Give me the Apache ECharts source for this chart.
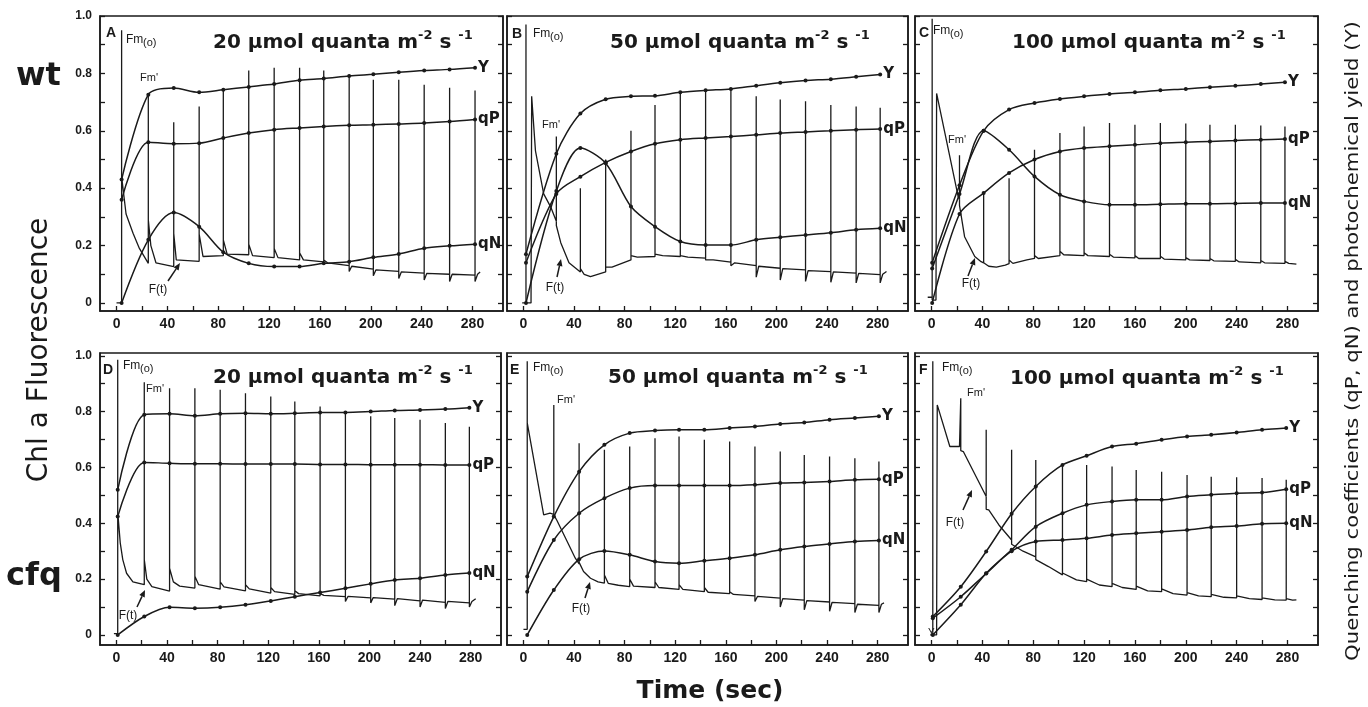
<!DOCTYPE html>
<html>
<head>
<meta charset="utf-8">
<script src="https://cdn.jsdelivr.net/npm/echarts/dist/echarts.min.js"></script>
<style>
  html, body { margin: 0; padding: 0; background: #ffffff; }
  #chart { width: 1368px; height: 707px; }
</style>
</head>
<body>
<div id="chart"></div>
<script>
// ---------------- tick / label values ----------------
const xTickVals = [0, 20, 40, 60, 80, 100, 120, 140, 160, 180, 200, 220, 240, 260, 280];
const xLabelVals = [0, 40, 80, 120, 160, 200, 240, 280];
const yTickVals = [0, 0.1, 0.2, 0.3, 0.4, 0.5, 0.6, 0.7, 0.8, 0.9, 1.0];
const yLabelVals = [0, 0.2, 0.4, 0.6, 0.8, 1.0];

const panelLetters = ['A', 'B', 'C', 'D', 'E', 'F'];
const panelLight = ['20', '50', '100', '20', '50', '100'];
const rowNames = ['wt', 'cfq'];

// ---------------- Panel A (wt, 20) ----------------
const pulseA = [4, 25, 45, 65, 84, 104, 124, 144, 163, 183, 202, 222, 242, 262, 282];
const peakA = [0.95, 0.73, 0.63, 0.685, 0.74, 0.81, 0.82, 0.82, 0.81, 0.796, 0.778, 0.778, 0.76, 0.75, 0.74];
const traceA = [[0, 0.0], [4, 0.0], [4, 0.44], [7.5, 0.31], [13, 0.243], [18, 0.19], [25, 0.138],
  [25, 0.29], [27, 0.2], [31, 0.14], [45, 0.127],
  [45, 0.243], [47, 0.15], [65, 0.145],
  [65, 0.24], [68, 0.162], [84, 0.165],
  [84, 0.22], [87, 0.17], [104, 0.168],
  [104, 0.205], [107, 0.165], [124, 0.158],
  [124, 0.19], [127, 0.158], [144, 0.15],
  [144, 0.175], [147, 0.15], [163, 0.143],
  [163, 0.15], [166, 0.14], [183, 0.13],
  [183, 0.11], [185, 0.128], [202, 0.118],
  [202, 0.095], [204, 0.115], [222, 0.11],
  [222, 0.085], [224, 0.108], [242, 0.104],
  [242, 0.08], [244, 0.103], [262, 0.1],
  [262, 0.075], [264, 0.1], [282, 0.097],
  [282, 0.075], [284, 0.1], [286, 0.108]];
const yA = [0.43, 0.726, 0.749, 0.734, 0.743, 0.753, 0.763, 0.776, 0.782, 0.791, 0.797, 0.804, 0.81, 0.814, 0.82];
const qpA = [0.36, 0.56, 0.555, 0.557, 0.575, 0.592, 0.604, 0.61, 0.615, 0.619, 0.621, 0.624, 0.627, 0.632, 0.639];
const qnA = [0.0, 0.22, 0.315, 0.266, 0.177, 0.138, 0.127, 0.127, 0.138, 0.144, 0.159, 0.171, 0.191, 0.199, 0.205];

// ---------------- Panel B (wt, 50) ----------------
const pulseB = [2, 26, 45, 65, 85, 104, 124, 144, 164, 184, 203, 223, 243, 263, 282];
const peakB = [0.97, 0.58, 0.40, 0.50, 0.60, 0.69, 0.738, 0.743, 0.743, 0.72, 0.709, 0.703, 0.69, 0.685, 0.68];
const traceB = [[-1, 0.0], [2, 0.0], [2, 0.0], [6, 0.0], [6.5, 0.72], [9.5, 0.53], [16, 0.38], [21.5, 0.335], [26, 0.285],
  [26, 0.27], [29.5, 0.21], [36, 0.14], [45, 0.108],
  [45, 0.12], [48, 0.1], [53, 0.092], [65, 0.108],
  [65, 0.125], [70, 0.125], [85, 0.15],
  [85, 0.165], [90, 0.16], [104, 0.162],
  [104, 0.17], [110, 0.165], [124, 0.162],
  [124, 0.165], [130, 0.16], [144, 0.156],
  [144, 0.15], [150, 0.15], [164, 0.142],
  [164, 0.13], [167, 0.14], [184, 0.13],
  [184, 0.09], [186, 0.128], [203, 0.121],
  [203, 0.08], [205, 0.12], [223, 0.115],
  [223, 0.075], [225, 0.113], [243, 0.109],
  [243, 0.072], [245, 0.108], [263, 0.104],
  [263, 0.07], [265, 0.103], [282, 0.099],
  [282, 0.07], [284, 0.1], [287, 0.11]];
const yB = [0.17, 0.52, 0.66, 0.71, 0.72, 0.722, 0.734, 0.741, 0.746, 0.757, 0.767, 0.775, 0.78, 0.788, 0.796];
const qpB = [0.14, 0.38, 0.44, 0.49, 0.528, 0.555, 0.569, 0.575, 0.58, 0.586, 0.592, 0.596, 0.6, 0.604, 0.606];
const qnB = [0.0, 0.39, 0.54, 0.487, 0.336, 0.266, 0.214, 0.202, 0.202, 0.22, 0.229, 0.237, 0.245, 0.255, 0.26];

// ---------------- Panel C (wt, 100) ----------------
const pulseC = [0.5, 22, 41, 61, 81, 101, 120, 140, 160, 180, 200, 219, 239, 259, 278];
const peakC = [0.99, 0.515, 0.383, 0.435, 0.534, 0.592, 0.615, 0.627, 0.621, 0.627, 0.625, 0.621, 0.621, 0.618, 0.615];
const traceC = [[-3, 0.02], [0.5, 0.02], [0.5, 0.01], [3.5, 0.01], [4, 0.73], [21, 0.37], [22, 0.36],
  [22, 0.34], [26, 0.231], [34, 0.162], [39, 0.144], [41, 0.14],
  [41, 0.14], [45, 0.128], [51, 0.125], [58, 0.132], [61, 0.137],
  [61, 0.15], [64, 0.138], [75, 0.15], [81, 0.155],
  [81, 0.165], [84, 0.155], [101, 0.165],
  [101, 0.18], [104, 0.168], [120, 0.165],
  [120, 0.175], [123, 0.165], [140, 0.162],
  [140, 0.17], [143, 0.16], [160, 0.157],
  [160, 0.165], [163, 0.155], [180, 0.155],
  [180, 0.163], [183, 0.153], [200, 0.15],
  [200, 0.158], [203, 0.15], [219, 0.148],
  [219, 0.155], [222, 0.147], [239, 0.145],
  [239, 0.152], [242, 0.143], [259, 0.14],
  [259, 0.148], [262, 0.14], [278, 0.138],
  [278, 0.145], [281, 0.138], [287, 0.135]];
const yC = [0.14, 0.41, 0.6, 0.674, 0.697, 0.711, 0.72, 0.728, 0.734, 0.741, 0.746, 0.752, 0.757, 0.763, 0.769];
const qpC = [0.0, 0.31, 0.383, 0.453, 0.5, 0.528, 0.54, 0.546, 0.551, 0.557, 0.56, 0.563, 0.566, 0.569, 0.571];
const qnC = [0.12, 0.38, 0.6, 0.534, 0.441, 0.377, 0.354, 0.342, 0.342, 0.344, 0.346, 0.346, 0.347, 0.348, 0.348];

// ---------------- Panel D (cfq, 20) ----------------
const pulseD = [1, 22, 42, 62, 82, 102, 122, 141, 161, 181, 201, 220, 240, 260, 279];
const peakD = [0.986, 0.905, 0.884, 0.884, 0.878, 0.866, 0.854, 0.836, 0.818, 0.8, 0.783, 0.777, 0.771, 0.759, 0.746];
const traceD = [[-2, 0.005], [1, 0.005], [1, 0.44], [3, 0.33], [5, 0.27], [8, 0.221], [13, 0.19], [22, 0.18],
  [22, 0.27], [24, 0.2], [28, 0.173], [42, 0.157],
  [42, 0.239], [45, 0.19], [50, 0.175], [62, 0.168],
  [62, 0.21], [65, 0.18], [82, 0.164],
  [82, 0.19], [85, 0.172], [102, 0.158],
  [102, 0.18], [105, 0.165], [122, 0.15],
  [122, 0.17], [125, 0.155], [141, 0.145],
  [141, 0.158], [144, 0.148], [161, 0.14],
  [161, 0.148], [164, 0.142], [181, 0.137],
  [181, 0.12], [183, 0.138], [201, 0.133],
  [201, 0.115], [203, 0.134], [220, 0.128],
  [220, 0.105], [222, 0.13], [240, 0.122],
  [240, 0.1], [242, 0.125], [260, 0.117],
  [260, 0.095], [262, 0.12], [279, 0.115],
  [279, 0.1], [281, 0.12], [284, 0.13]];
const yD = [0.52, 0.789, 0.792, 0.785, 0.792, 0.794, 0.792, 0.794, 0.797, 0.797, 0.8, 0.804, 0.806, 0.809, 0.814];
const qpD = [0.424, 0.618, 0.615, 0.613, 0.613, 0.612, 0.612, 0.612, 0.611, 0.611, 0.61, 0.61, 0.61, 0.609, 0.609];
const qnD = [0.0, 0.066, 0.099, 0.096, 0.099, 0.108, 0.122, 0.137, 0.152, 0.167, 0.183, 0.197, 0.203, 0.215, 0.222];

// ---------------- Panel E (cfq, 50) ----------------
const pulseE = [3, 24, 44, 64, 84, 104, 123, 143, 163, 183, 203, 222, 242, 262, 281];
const peakE = [0.98, 0.824, 0.687, 0.663, 0.675, 0.705, 0.711, 0.699, 0.693, 0.675, 0.657, 0.645, 0.639, 0.633, 0.621];
const traceE = [[0, 0.02], [3, 0.02], [3, 0.76], [16, 0.43], [21, 0.436], [24, 0.432],
  [24, 0.43], [26.5, 0.41], [34, 0.34], [41, 0.275], [44, 0.255],
  [44, 0.26], [47.5, 0.227], [53, 0.203], [59, 0.19], [64, 0.186],
  [64, 0.215], [67, 0.185], [75, 0.178], [84, 0.173],
  [84, 0.2], [87, 0.175], [104, 0.17],
  [104, 0.19], [107, 0.17], [123, 0.163],
  [123, 0.18], [126, 0.163], [143, 0.155],
  [143, 0.17], [146, 0.153], [163, 0.148],
  [163, 0.155], [166, 0.145], [183, 0.14],
  [183, 0.12], [185, 0.138], [203, 0.132],
  [203, 0.1], [205, 0.13], [222, 0.125],
  [222, 0.09], [224, 0.123], [242, 0.118],
  [242, 0.085], [244, 0.117], [262, 0.112],
  [262, 0.08], [264, 0.11], [281, 0.106],
  [281, 0.08], [283, 0.11], [285, 0.115]];
const yE = [0.209, 0.424, 0.585, 0.681, 0.723, 0.732, 0.735, 0.735, 0.741, 0.747, 0.756, 0.761, 0.771, 0.777, 0.783];
const qpE = [0.155, 0.34, 0.436, 0.49, 0.526, 0.535, 0.535, 0.535, 0.535, 0.538, 0.544, 0.546, 0.55, 0.556, 0.558];
const qnE = [0.0, 0.161, 0.271, 0.301, 0.287, 0.263, 0.257, 0.266, 0.275, 0.287, 0.305, 0.317, 0.326, 0.335, 0.338];

// ---------------- Panel F (cfq, 100) ----------------
const pulseF = [1, 23, 43, 63, 82, 103, 122, 142, 161, 181, 201, 220, 240, 260, 279];
const peakF = [0.98, 0.848, 0.735, 0.663, 0.627, 0.603, 0.609, 0.603, 0.591, 0.585, 0.573, 0.567, 0.565, 0.562, 0.556];
const traceF = [[-1, 0.0], [1, 0.0], [1, 0.0], [4, 0.0], [4.5, 0.824], [14.4, 0.675], [22, 0.675], [23, 0.675],
  [23, 0.66], [25, 0.657], [43, 0.496],
  [43, 0.45], [45, 0.448], [53, 0.394], [63, 0.34],
  [63, 0.325], [72, 0.3], [82, 0.28],
  [82, 0.27], [92, 0.245], [103, 0.215],
  [103, 0.222], [114, 0.197], [122, 0.191],
  [122, 0.2], [132, 0.179], [142, 0.173],
  [142, 0.185], [150, 0.17], [161, 0.163],
  [161, 0.175], [170, 0.158], [181, 0.155],
  [181, 0.165], [190, 0.148], [201, 0.143],
  [201, 0.152], [210, 0.14], [220, 0.137],
  [220, 0.145], [230, 0.135], [240, 0.133],
  [240, 0.14], [250, 0.13], [260, 0.127],
  [260, 0.133], [270, 0.126], [279, 0.125],
  [279, 0.13], [284, 0.125], [287, 0.126]];
const yF = [0.066, 0.173, 0.299, 0.434, 0.532, 0.609, 0.642, 0.675, 0.685, 0.699, 0.711, 0.717, 0.725, 0.735, 0.741];
const qpF = [0.0, 0.108, 0.221, 0.305, 0.388, 0.436, 0.466, 0.478, 0.484, 0.484, 0.496, 0.502, 0.508, 0.51, 0.522];
const qnF = [0.06, 0.137, 0.22, 0.3, 0.335, 0.34, 0.346, 0.358, 0.364, 0.37, 0.376, 0.386, 0.39, 0.398, 0.4];

// ---------------- assemble ----------------
const panelData = [
  { pulse: pulseA, peak: peakA, trace: traceA, y: yA, qp: qpA, qn: qnA },
  { pulse: pulseB, peak: peakB, trace: traceB, y: yB, qp: qpB, qn: qnB },
  { pulse: pulseC, peak: peakC, trace: traceC, y: yC, qp: qpC, qn: qnC },
  { pulse: pulseD, peak: peakD, trace: traceD, y: yD, qp: qpD, qn: qnD },
  { pulse: pulseE, peak: peakE, trace: traceE, y: yE, qp: qpE, qn: qnE },
  { pulse: pulseF, peak: peakF, trace: traceF, y: yF, qp: qpF, qn: qnF }
];

// layout (pixels)
const gridBoxes = [
  { left: 100, top: 16, width: 403, height: 295 },
  { left: 507, top: 16, width: 401, height: 295 },
  { left: 915, top: 16, width: 403, height: 295 },
  { left: 100, top: 353, width: 401, height: 292 },
  { left: 507, top: 353, width: 401, height: 292 },
  { left: 915, top: 353, width: 403, height: 292 }
];
const yRanges = [[-0.028, 1.0], [-0.028, 1.0], [-0.028, 1.0], [-0.036, 1.01], [-0.036, 1.01], [-0.036, 1.01]];

const INK = '#1a1a1a';

function buildTrace(trace, pulses, peaks) {
  const out = [];
  const used = {};
  for (let k = 0; k < trace.length; k++) {
    const p = trace[k];
    out.push(p);
    const idx = pulses.indexOf(p[0]);
    if (idx >= 0 && !used[idx] && k + 1 < trace.length && trace[k + 1][0] === p[0]) {
      out.push([p[0], peaks[idx]]);
      used[idx] = true;
    }
  }
  return out;
}

const grids = [], xAxes = [], yAxes = [], series = [];
gridBoxes.forEach((g, i) => {
  grids.push(Object.assign({ show: true, borderColor: INK, borderWidth: 1.5, backgroundColor: 'transparent' }, g));
  xAxes.push({
    type: 'value', gridIndex: i, min: -13, max: 304,
    axisLine: { show: true, onZero: false, lineStyle: { color: INK, width: 1.5 } },
    axisTick: { show: true, inside: true, length: 5, customValues: xTickVals, lineStyle: { color: INK, width: 1.3 } },
    axisLabel: { show: true, customValues: xLabelVals, fontSize: 14, fontWeight: 'bold', fontFamily: 'Liberation Sans', color: INK, margin: 6 },
    splitLine: { show: false }
  });
});
gridBoxes.forEach((g, i) => {
  const showLab = (i === 0 || i === 3);
  yAxes.push({
    type: 'value', gridIndex: i, position: 'left', min: yRanges[i][0], max: yRanges[i][1],
    axisLine: { show: true, onZero: false, lineStyle: { color: INK, width: 1.5 } },
    axisTick: { show: true, inside: true, length: 5, customValues: yTickVals, lineStyle: { color: INK, width: 1.3 } },
    axisLabel: { show: showLab, customValues: yLabelVals, fontSize: 12, fontWeight: 'bold', fontFamily: 'Liberation Sans', color: INK, margin: 8,
      formatter: v => (Math.abs(v) < 1e-9 ? '0' : v.toFixed(1)) },
    splitLine: { show: false }
  });
});
gridBoxes.forEach((g, i) => {
  yAxes.push({
    type: 'value', gridIndex: i, position: 'right', min: yRanges[i][0], max: yRanges[i][1],
    axisLine: { show: true, onZero: false, lineStyle: { color: INK, width: 1.5 } },
    axisTick: { show: true, inside: true, length: 5, customValues: yTickVals, lineStyle: { color: INK, width: 1.3 } },
    axisLabel: { show: false },
    splitLine: { show: false }
  });
});

const endLab = (txt) => ({ show: true, formatter: txt, fontSize: 15, fontWeight: 'bold', fontFamily: 'DejaVu Sans', color: INK, distance: 3 });

panelData.forEach((d, i) => {
  series.push({
    name: 'F(t) ' + panelLetters[i], type: 'line', xAxisIndex: i, yAxisIndex: i,
    data: buildTrace(d.trace, d.pulse, d.peak),
    showSymbol: false, symbol: 'none', smooth: false,
    lineStyle: { color: INK, width: 1.3 }, z: 3
  });
  const mk = (arr, lab) => ({
    name: lab + ' ' + panelLetters[i], type: 'line', xAxisIndex: i, yAxisIndex: i,
    data: d.pulse.map((t, k) => [t, arr[k]]),
    smooth: 0.3, symbol: 'circle', symbolSize: 4, showSymbol: true,
    itemStyle: { color: INK }, lineStyle: { color: INK, width: 1.5 },
    endLabel: endLab(lab), z: 4
  });
  series.push(mk(d.y, 'Y'), mk(d.qp, 'qP'), mk(d.qn, 'qN'));
});

// ---------------- annotation layout ----------------
const annot = [
  { letter: [106, 33], fmo: [126, 40], fmp: [140, 78], ft: [158, 290], arrow: [168, 281, 180, 263], title: [213, 41] },
  { letter: [512, 34], fmo: [533, 34], fmp: [542, 125], ft: [555, 288], arrow: [557, 277, 561, 259], title: [610, 41] },
  { letter: [919, 33], fmo: [933, 31], fmp: [948, 140], ft: [971, 284], arrow: [968, 276, 975, 258], title: [1012, 41] },
  { letter: [103, 370], fmo: [123, 366], fmp: [146, 389], ft: [128, 616], arrow: [137, 607, 145, 590], title: [213, 376] },
  { letter: [510, 370], fmo: [533, 368], fmp: [557, 400], ft: [581, 609], arrow: [585, 598, 590, 582], title: [608, 376] },
  { letter: [919, 370], fmo: [942, 368], fmp: [967, 393], ft: [955, 523], arrow: [963, 510, 972, 490], title: [1010, 377] }
];

function txt(x, y, text, font, align, extra) {
  return Object.assign({
    type: 'text', x: x, y: y, silent: true, z: 10,
    style: { text: text, font: font, fill: INK, textAlign: align || 'left', textVerticalAlign: 'middle' }
  }, extra || {});
}
function arrow(x1, y1, x2, y2) {
  const ang = Math.atan2(y2 - y1, x2 - x1);
  const L = 7, W = 3;
  const bx = x2 - L * Math.cos(ang), by = y2 - L * Math.sin(ang);
  const px = -Math.sin(ang) * W, py = Math.cos(ang) * W;
  return [
    { type: 'line', silent: true, z: 10, shape: { x1: x1, y1: y1, x2: bx, y2: by }, style: { stroke: INK, lineWidth: 1.5 } },
    { type: 'polygon', silent: true, z: 10, shape: { points: [[x2, y2], [bx + px, by + py], [bx - px, by - py]] }, style: { fill: INK } }
  ];
}

const graphics = [];
graphics.push(txt(16, 77, rowNames[0], 'bold 32px "DejaVu Sans"'));
graphics.push(txt(6, 577, rowNames[1], 'bold 32px "DejaVu Sans"'));
graphics.push(txt(40, 350, 'Chl a Fluorescence', '28px "DejaVu Sans"', 'center', { rotation: Math.PI / 2 }));
graphics.push(txt(710, 691, 'Time (sec)', 'bold 25px "DejaVu Sans"', 'center'));
graphics.push(txt(1353, 341, 'Quenching coefficients (qP, qN) and photochemical yield (Y)', '18px "DejaVu Sans"', 'center', { rotation: Math.PI / 2, scaleX: 1.18 }));

annot.forEach((a, i) => {
  graphics.push(txt(a.letter[0], a.letter[1], panelLetters[i], 'bold 14px "Liberation Sans"'));
  graphics.push(txt(a.fmo[0], a.fmo[1], 'Fm', '12px "Liberation Sans"'));
  graphics.push(txt(a.fmo[0] + 17, a.fmo[1] + 3, '(o)', '11px "Liberation Sans"'));
  graphics.push(txt(a.fmp[0], a.fmp[1], "Fm'", '11px "Liberation Sans"'));
  graphics.push(txt(a.ft[0], a.ft[1], 'F(t)', '12px "Liberation Sans"', 'center'));
  arrow(a.arrow[0], a.arrow[1], a.arrow[2], a.arrow[3]).forEach(e => graphics.push(e));
  graphics.push({
    type: 'text', x: a.title[0], y: a.title[1], silent: true, z: 10,
    style: {
      text: '{n|' + panelLight[i] + ' \u03bcmol quanta m}{s|-2}{n| s }{s|-1}',
      textAlign: 'left', textVerticalAlign: 'middle',
      rich: {
        n: { fontSize: 20, fontWeight: 'bold', fontFamily: 'DejaVu Sans', fill: INK, lineHeight: 24, verticalAlign: 'bottom' },
        s: { fontSize: 13, fontWeight: 'bold', fontFamily: 'DejaVu Sans', fill: INK, lineHeight: 24, verticalAlign: 'top' }
      }
    }
  });
});
graphics.push(txt(928, 633, 'Y', '10px "Liberation Sans"'));

const chart = echarts.init(document.getElementById('chart'), null, { renderer: 'canvas' });
chart.setOption({
  backgroundColor: '#ffffff',
  animation: false,
  grid: grids,
  xAxis: xAxes,
  yAxis: yAxes,
  series: series,
  graphic: graphics
});
</script>
</body>
</html>
